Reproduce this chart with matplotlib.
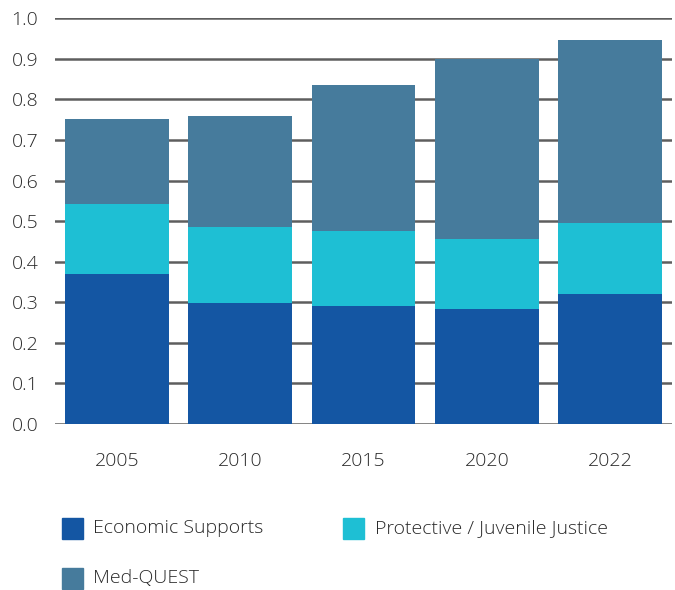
import matplotlib
matplotlib.use("Agg")
import matplotlib.pyplot as plt
from matplotlib.patches import Rectangle
import numpy as np

plt.rcParams['font.family'] = ['Open Sans', 'DejaVu Sans']
plt.rcParams['font.weight'] = 'light'

years = ["2005", "2010", "2015", "2020", "2022"]
economic = [0.370, 0.298, 0.291, 0.283, 0.320]
protective = [0.172, 0.188, 0.185, 0.173, 0.175]
med_quest = [0.210, 0.273, 0.360, 0.444, 0.451]

series_names = ["Economic Supports", "Protective / Juvenile Justice", "Med-QUEST"]
colors = ["#1456a3", "#1ebfd4", "#467b9c"]

fig = plt.figure(figsize=(6.75, 5.9), dpi=100)
ax = fig.add_axes([0.0815, 0.2814, 0.914, 0.6876])

x = np.arange(len(years))
bottom = np.zeros(len(years))
for vals, c in zip([economic, protective, med_quest], colors):
    ax.bar(x, vals, bottom=bottom, width=0.84, color=c, zorder=3)
    bottom += np.array(vals)

ax.set_xlim(-0.5, 4.5)
ax.set_ylim(0, 1.0)
ax.set_yticks(np.arange(0, 1.01, 0.1))
ax.set_yticklabels([f"{v:.1f}" for v in np.arange(0, 1.01, 0.1)])
ax.set_xticks(x)
ax.set_xticklabels(years)
ax.grid(axis="y", color="#5e5e5e", linewidth=1.8, zorder=0)
for s in ax.spines.values():
    s.set_visible(False)
ax.tick_params(axis="both", length=0, labelsize=14, colors="#2a2a2a")
ax.tick_params(axis="x", pad=20)
ax.tick_params(axis="y", pad=12)

# legend
W, H = 675, 590
legend_items = [(62, 528), (343, 528), (62, 578)]
text_x = [93, 375, 93]
for (px, py), tx, name, c in zip(legend_items, text_x, series_names, colors):
    fig.add_artist(Rectangle((px / W, 1 - (py + 10.5) / H), 21 / W, 21 / H,
                             transform=fig.transFigure, color=c))
    fig.text(tx / W, 1 - py / H, name, fontsize=14, color="#2a2a2a",
             va="center", ha="left")

fig.savefig("out.png", dpi=100)
